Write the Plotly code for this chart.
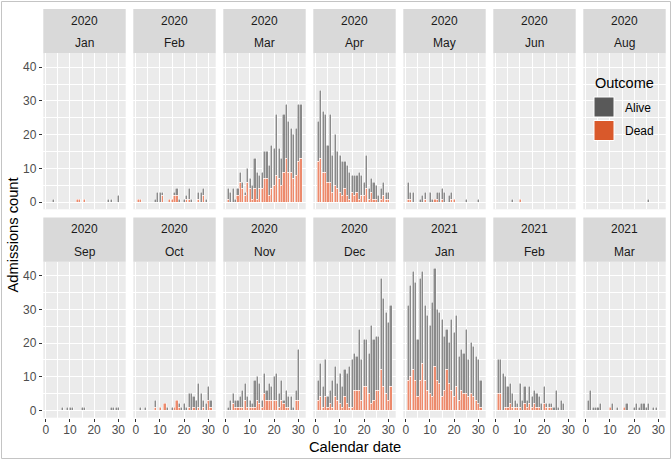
import plotly.graph_objects as go

W, H = 672, 460

panel_years = ["2020", "2020", "2020", "2020", "2020", "2020", "2020",
               "2020", "2020", "2020", "2020", "2021", "2021", "2021"]
panel_months = ["Jan", "Feb", "Mar", "Apr", "May", "Jun", "Aug",
                "Sep", "Oct", "Nov", "Dec", "Jan", "Feb", "Mar"]

# daily admissions per panel, split by outcome (index 0 = day 1)
jan20_alive = [0, 0, 1, 0, 0, 0, 0, 0, 0, 0, 0, 0, 0, 0, 0, 0, 0, 0, 0, 0,
               0, 0, 0, 0, 0, 1, 1, 0, 0, 2, 0]
jan20_dead = [0, 0, 0, 0, 0, 0, 0, 0, 0, 0, 0, 0, 1, 1, 0, 1, 0, 0, 0, 0,
              0, 0, 0, 0, 0, 0, 0, 0, 0, 0, 0]

feb20_alive = [0, 0, 0, 0, 0, 0, 0, 1, 3, 3, 1, 0, 0, 0, 0, 1, 2, 1, 0, 1,
               1, 3, 1, 0, 0, 2, 3, 2, 1]
feb20_dead = [1, 1, 0, 0, 0, 0, 0, 0, 0, 0, 2, 0, 0, 1, 1, 2, 2, 0, 0, 0,
              1, 1, 0, 0, 0, 1, 0, 2, 0]

mar20_total = [4, 3, 4, 1, 4, 9, 6, 3, 10, 7, 5, 13, 9, 8, 9, 15, 15, 11, 17, 16,
               26, 16, 13, 26, 29, 24, 22, 20, 22, 29, 29]
mar20_dead = [1, 0, 0, 0, 2, 6, 4, 2, 6, 4, 1, 4, 1, 4, 4, 7, 7, 2, 4, 5,
              8, 7, 5, 9, 13, 9, 9, 7, 8, 12, 13]

apr20_total = [24, 33, 27, 26, 17, 26, 14, 20, 15, 14, 12, 12, 11, 9, 8, 8, 8, 9, 8, 6,
               14, 4, 7, 6, 5, 2, 4, 6, 3, 3]
apr20_dead = [12, 13, 9, 9, 6, 6, 3, 5, 4, 3, 2, 4, 2, 1, 3, 2, 3, 1, 2, 2,
              4, 1, 3, 1, 1, 0, 1, 2, 1, 1]

may20_total = [6, 3, 3, 0, 0, 1, 2, 3, 0, 3, 1, 1, 3, 3, 4, 3, 0, 2, 3, 1,
               0, 0, 0, 0, 1, 0, 0, 0, 0, 1, 0]
may20_dead = [1, 1, 0, 0, 0, 0, 0, 1, 0, 0, 0, 1, 1, 0, 1, 0, 0, 0, 1, 1,
              0, 0, 0, 0, 0, 0, 0, 0, 0, 0, 0]

jun20_alive = [0, 0, 0, 0, 0, 0, 1, 0, 0, 0, 0, 0, 0, 0, 0, 0, 0, 0, 0, 0,
               0, 0, 0, 0, 0, 0, 0, 0, 0, 0]
jun20_dead = [0, 0, 0, 0, 0, 0, 0, 0, 0, 1, 0, 0, 0, 0, 0, 0, 0, 0, 0, 0,
              0, 0, 0, 0, 0, 0, 0, 0, 0, 0]

aug20_alive = [0, 0, 0, 0, 0, 0, 0, 0, 0, 0, 0, 0, 0, 0, 0, 0, 0, 0, 0, 0,
               0, 0, 0, 0, 0, 1, 0, 0, 0, 0, 0]
aug20_dead = [0] * 31

sep20_alive = [0, 0, 0, 0, 0, 0, 1, 0, 1, 1, 1, 0, 0, 0, 1, 1, 0, 0, 0, 0,
               0, 0, 0, 0, 0, 0, 1, 1, 1, 1]
sep20_dead = [0] * 30

oct20_total = [0, 1, 0, 1, 0, 0, 0, 3, 0, 1, 0, 2, 1, 0, 1, 1, 3, 2, 1, 2,
               1, 5, 5, 4, 3, 8, 5, 3, 2, 7, 3]
oct20_dead = [0, 0, 0, 0, 0, 0, 0, 1, 0, 1, 0, 2, 0, 0, 0, 1, 3, 1, 0, 0,
              0, 1, 0, 1, 0, 1, 0, 1, 0, 3, 1]

nov20_total = [1, 3, 5, 3, 3, 4, 6, 8, 4, 3, 2, 9, 10, 8, 3, 11, 6, 8, 7, 10,
               11, 5, 9, 3, 6, 4, 4, 1, 6, 18]
nov20_dead = [0, 0, 2, 1, 1, 1, 1, 3, 1, 1, 1, 1, 3, 2, 1, 5, 3, 3, 3, 3,
              3, 1, 3, 2, 1, 1, 0, 0, 3, 3]

dec20_total = [9, 14, 7, 15, 4, 6, 9, 13, 8, 11, 7, 12, 11, 13, 15, 17, 16, 24, 15, 21,
               21, 17, 25, 21, 22, 22, 39, 33, 29, 26, 31]
dec20_dead = [3, 4, 1, 4, 1, 2, 1, 4, 3, 2, 1, 4, 2, 1, 1, 6, 6, 6, 3, 7,
              7, 5, 2, 3, 6, 6, 12, 7, 5, 3, 7]

jan21_total = [31, 37, 41, 38, 21, 39, 41, 31, 28, 25, 32, 42, 30, 29, 27, 22, 24, 20, 27, 23,
               28, 16, 18, 17, 24, 15, 20, 19, 16, 15, 9]
jan21_dead = [9, 10, 12, 9, 4, 9, 14, 9, 6, 5, 4, 13, 9, 8, 4, 6, 12, 8, 6, 4,
              7, 3, 6, 5, 5, 4, 5, 4, 3, 2, 1]

feb21_total = [15, 15, 11, 10, 7, 8, 5, 3, 2, 8, 3, 7, 3, 7, 4, 6, 5, 4, 2, 7,
               2, 2, 2, 1, 6, 1, 3, 2]
feb21_dead = [5, 5, 0, 1, 1, 2, 1, 1, 1, 1, 0, 2, 1, 2, 1, 2, 1, 1, 0, 2,
              1, 1, 1, 0, 0, 0, 0, 0]

mar21_total = [3, 6, 1, 1, 1, 2, 0, 0, 0, 1, 2, 0, 1, 0, 0, 1, 2, 0, 0, 1,
               2, 1, 2, 2, 1, 2, 0, 1, 1, 0, 0]
mar21_dead = [0, 0, 0, 0, 0, 0, 0, 0, 0, 1, 0, 0, 0, 0, 0, 1, 0, 0, 0, 0,
              0, 0, 0, 0, 0, 0, 0, 0, 0, 0, 0]


def split(total, dead):
    return [t - d for t, d in zip(total, dead)], dead


panels = [
    (jan20_alive, jan20_dead),
    (feb20_alive, feb20_dead),
    split(mar20_total, mar20_dead),
    split(apr20_total, apr20_dead),
    split(may20_total, may20_dead),
    (jun20_alive, jun20_dead),
    (aug20_alive, aug20_dead),
    (sep20_alive, sep20_dead),
    split(oct20_total, oct20_dead),
    split(nov20_total, nov20_dead),
    split(dec20_total, dec20_dead),
    split(jan21_total, jan21_dead),
    split(feb21_total, feb21_dead),
    split(mar21_total, mar21_dead),
]

# legend key colours, and the lighter look the thin outlined bars have
ALIVE, DEAD = "#595959", "#D9592B"
ALIVE_BAR, DEAD_BAR = "#8A8A8A", "#EC8A6C"
FONT = "Liberation Sans, Arial, sans-serif"

# pixel geometry of the facet grid
PANEL_LEFT0, PANEL_W, PANEL_PITCH = 43.3, 82.4, 90.0
panel_top = [53.3, 261.7]
panel_bottom = [209.3, 417.7]
strip_top = [9.0, 217.4]


def px(x):
    return x / W


def py(y):
    return 1 - y / H


fig = go.Figure()
shapes, annotations = [], []

for i, (alive, dead) in enumerate(panels):
    r, c = divmod(i, 7)
    k = "" if i == 0 else str(i + 1)
    days = list(range(1, len(alive) + 1))
    for vals, col in ((dead, DEAD_BAR), (alive, ALIVE_BAR)):
        fig.add_trace(go.Bar(
            x=days, y=[v if v else None for v in vals],
            xaxis="x" + k, yaxis="y" + k, width=0.9,
            marker=dict(color=col, line=dict(color="white", width=0.5)),
            showlegend=False, hoverinfo="skip",
        ))

    left = PANEL_LEFT0 + PANEL_PITCH * c
    right = left + PANEL_W
    bottom_row = r == 1
    first_col = c == 0
    fig.update_layout(**{
        "xaxis" + k: dict(
            domain=[px(left), px(right)], anchor="y" + k,
            range=[-1.0, 33.05], tickvals=[0, 10, 20, 30],
            showticklabels=bottom_row, ticks="outside" if bottom_row else "",
            ticklen=3.5, tickwidth=1, tickcolor="#333333", ticklabelstandoff=-3,
            tickfont=dict(size=12, color="#4D4D4D"),
            showgrid=True, gridcolor="white", gridwidth=1.1, zeroline=False,
            minor=dict(tickvals=[5, 15, 25], showgrid=True,
                       gridcolor="white", gridwidth=0.55, ticks=""),
            fixedrange=True,
        ),
        "yaxis" + k: dict(
            domain=[py(panel_bottom[r]), py(panel_top[r])], anchor="x" + k,
            range=[-2.1, 44.1], tickvals=[0, 10, 20, 30, 40],
            showticklabels=first_col, ticks="outside" if first_col else "",
            ticklen=3.5, tickwidth=1, tickcolor="#333333",
            tickfont=dict(size=12, color="#4D4D4D"),
            showgrid=True, gridcolor="white", gridwidth=1.1, zeroline=False,
            minor=dict(tickvals=[5, 15, 25, 35], showgrid=True,
                       gridcolor="white", gridwidth=0.55, ticks=""),
            fixedrange=True,
        ),
    })

    # facet strip
    shapes.append(dict(type="rect", xref="paper", yref="paper",
                       x0=px(left), x1=px(right),
                       y0=py(panel_top[r]), y1=py(strip_top[r]),
                       fillcolor="#D9D9D9", line=dict(width=0), layer="below"))
    mid = (left + right) / 2
    h = panel_top[r] - strip_top[r]
    for txt, yy in ((panel_years[i], strip_top[r] + h * 0.265),
                    (panel_months[i], strip_top[r] + h * 0.775)):
        annotations.append(dict(text=txt, x=px(mid), y=py(yy), xref="paper", yref="paper",
                                showarrow=False, xanchor="center", yanchor="middle",
                                font=dict(size=12, color="#1A1A1A")))

# axis titles
annotations.append(dict(text="Calendar date", x=px(354.5), y=py(447), xref="paper", yref="paper",
                        showarrow=False, xanchor="center", yanchor="middle",
                        font=dict(size=14.7, color="black")))
annotations.append(dict(text="Admissions count", x=px(12), y=py(235.5), xref="paper", yref="paper",
                        showarrow=False, xanchor="center", yanchor="middle", textangle=-90,
                        font=dict(size=14.7, color="black")))

# legend drawn inside the empty Aug panel
annotations.append(dict(text="Outcome", x=px(592.5), y=py(82.7), xref="paper", yref="paper",
                        showarrow=False, xanchor="left", yanchor="middle",
                        font=dict(size=14.5, color="black")))
for lbl, col, y0 in (("Alive", ALIVE, 97), ("Dead", DEAD, 120.5)):
    shapes.append(dict(type="rect", xref="paper", yref="paper",
                       x0=px(594), x1=px(614), y0=py(y0 + 20), y1=py(y0),
                       fillcolor=col, line=dict(color="white", width=1)))
    annotations.append(dict(text=lbl, x=px(622.5), y=py(y0 + 10.5), xref="paper", yref="paper",
                            showarrow=False, xanchor="left", yanchor="middle",
                            font=dict(size=12, color="black")))

# thin frame around the whole picture
shapes.append(dict(type="rect", xref="paper", yref="paper",
                   x0=px(1.5), x1=px(670.5), y0=py(458.5), y1=py(1.5),
                   line=dict(color="#C4C4C4", width=1), fillcolor="rgba(0,0,0,0)"))

fig.update_layout(
    width=W, height=H,
    margin=dict(l=0, r=0, t=0, b=0),
    barmode="stack", bargap=0,
    plot_bgcolor="#EBEBEB", paper_bgcolor="white",
    font=dict(family=FONT, color="black"),
    shapes=shapes, annotations=annotations,
    showlegend=False,
)

# drop the page's default body margin so the figure sits at the window origin
fig.write_html("out.html", config={"displayModeBar": False},
               post_script="document.body.style.margin='0';")
